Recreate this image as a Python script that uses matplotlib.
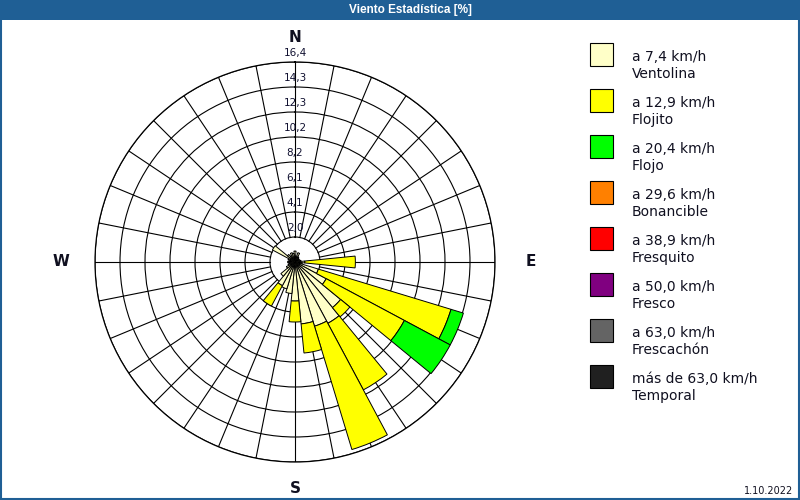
import numpy as np
from matplotlib import pyplot as plt
from matplotlib.patches import Rectangle

# 32 compass sectors, percent of time per speed class
directions = np.arange(32) * 11.25
ventolina = [0.9, 0.5, 0.8, 0.5, 0.4, 0.4, 0.4, 0.5,
             0.8, 0.6, 2.0, 2.9, 4.84, 5.7, 5.5, 5.1,
             3.2, 2.6, 2.3, 2.2, 1.5, 0.8, 0.6, 0.5,
             0.6, 0.5, 0.6, 2.1, 0.8, 0.6, 0.8, 0.7]
flojito = [0, 0, 0, 0, 0, 0, 0, 0,
           4.15, 0, 11.37, 7.27, 0.98, 6.19, 10.57, 2.4,
           1.72, 0, 0, 1.9, 0, 0, 0, 0,
           0, 0, 0, 0, 0, 0, 0, 0]
flojo = [0, 0, 0, 0, 0, 0, 0, 0,
         0, 0, 1.06, 4.26, 0, 0, 0, 0,
         0, 0, 0, 0, 0, 0, 0, 0,
         0, 0, 0, 0, 0, 0, 0, 0]
bonancible = [0.0] * 32
fresquito = [0.0] * 32
fresco = [0.0] * 32
frescachon = [0.0] * 32
temporal = [0.0] * 32

speed_labels = ["a 7,4 km/h", "a 12,9 km/h", "a 20,4 km/h", "a 29,6 km/h",
                "a 38,9 km/h", "a 50,0 km/h", "a 63,0 km/h", "más de 63,0 km/h"]
class_names = ["Ventolina", "Flojito", "Flojo", "Bonancible",
               "Fresquito", "Fresco", "Frescachón", "Temporal"]
colors = ["#ffffc8", "#ffff00", "#00ff00", "#ff8000",
          "#ff0000", "#800080", "#646464", "#202020"]

ring_values = [2.05, 4.1, 6.15, 8.2, 10.25, 12.3, 14.35, 16.4]
ring_labels = ["2,0", "4,1", "6,1", "8,2", "10,2", "12,3", "14,3", "16,4"]
rmax = 16.4

blue = "#1f5f95"

fig = plt.figure(figsize=(8, 5), dpi=100)
fig.patch.set_facecolor("white")

# overlay in pixel coords for frame, title bar and legend
ov = fig.add_axes([0, 0, 1, 1])
ov.set_xlim(0, 800)
ov.set_ylim(500, 0)
ov.axis("off")
ov.add_patch(Rectangle((0, 0), 800, 20, color=blue, lw=0))
ov.add_patch(Rectangle((0.75, 0.75), 798.5, 498.5, fill=False, ec=blue, lw=1.5))
ov.text(410, 10.5, "Viento Estadística [%]", color="white", fontsize=8.5,
        fontweight="bold", family="Liberation Sans", ha="center", va="center")
ov.text(793, 491, "1.10.2022", fontsize=7, ha="right", va="center", color="#101020")

for i in range(8):
    y0 = 43 + 46 * i
    ov.add_patch(Rectangle((590, y0), 23, 23, fc=colors[i], ec="black", lw=0.8))
    ov.text(632, y0 + 13.7, speed_labels[i], fontsize=10, va="center", color="#101020")
    ov.text(632, y0 + 31, class_names[i], fontsize=10, va="center", color="#101020")

# the rose itself
ax = fig.add_axes([95 / 800, 38 / 500, 400 / 800, 400 / 500], projection="polar")
ax.set_theta_zero_location("N")
ax.set_theta_direction(-1)
ax.set_ylim(0, rmax)
ax.set_facecolor("none")
ax.set_axisbelow(True)
ax.set_rgrids(ring_values, labels=[])
ax.set_thetagrids([])
ax.yaxis.grid(True, color="black", lw=0.8)
ax.spines["polar"].set_linewidth(0.9)

theta = np.deg2rad(directions)
for t in theta:
    ax.plot([t, t], [ring_values[0], rmax], color="black", lw=0.8, zorder=0.6)

width = 2 * np.pi / 32
series = [ventolina, flojito, flojo, bonancible, fresquito, fresco, frescachon, temporal]
bottom = np.zeros(32)
for vals, col in zip(series, colors):
    vals = np.array(vals)
    m = vals > 0
    if m.any():
        ax.bar(theta[m], vals[m], width=width, bottom=bottom[m], color=col,
               edgecolor="black", lw=0.7, zorder=2)
    bottom += vals

for r, lab in zip(ring_values, ring_labels):
    ax.text(0, r + 0.7, lab, fontsize=7.5, ha="center", va="center", color="#101030", zorder=3)

cardinal = [("N", 0, 18.45), ("E", 90, 19.35), ("S", 180, 18.55), ("W", 270, 19.2)]
for lab, ang, r in cardinal:
    ax.text(np.deg2rad(ang), r, lab, fontsize=11, fontweight="bold",
            ha="center", va="center", color="#101020")

fig.savefig("out.png", dpi=100)
